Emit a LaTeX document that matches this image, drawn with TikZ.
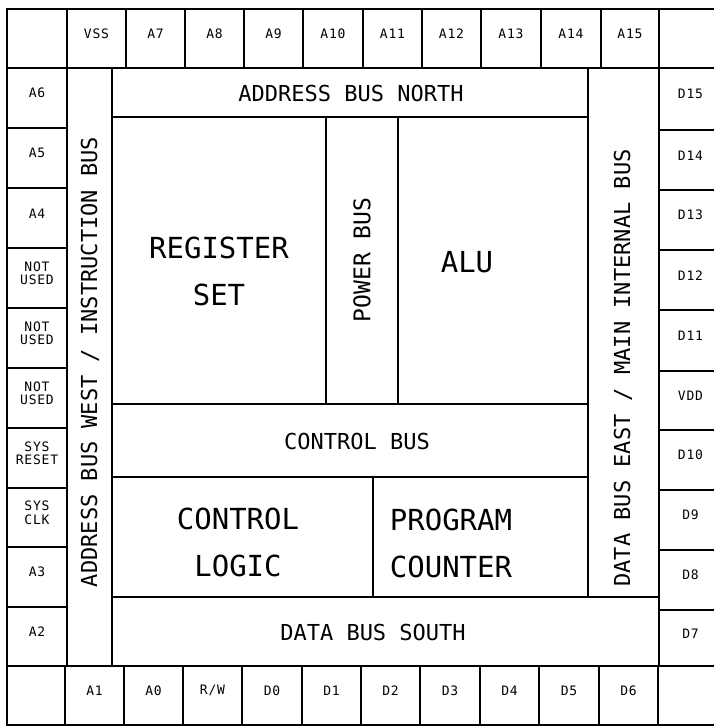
\documentclass[tikz,border=0pt]{standalone}
\usepackage{fontspec}
\usetikzlibrary{fit}
\newfontfamily\plotfont{DejaVu Sans Mono}
\newfontfamily\pinfont[LetterSpace=6]{DejaVu Sans Mono}
\newcommand\cellnode[6]{\node[pin, fit={(#2,#3) (#4,#5)}] (#1) {#6};}
\newcommand\blocknode[5]{\node[box, fit={(#2,#3) (#4,#5)}] (#1) {};}
\begin{document}
\begin{tikzpicture}[x=1pt,y=-1pt,
  box/.style={draw, line width=1.1pt, inner sep=0pt, outer sep=0pt},
  pin/.style={box, font=\pinfont\fontsize{13}{13.5}\selectfont, align=center},
  bus/.style={font=\plotfont\fontsize{22}{22}\selectfont, inner sep=0pt},
  blk/.style={font=\plotfont\fontsize{29}{47}\selectfont, align=center, inner sep=0pt}]
\useasboundingbox (0,0) rectangle (714,726);
% top row
\cellnode{tl}{7}{9}{67}{68}{}
\cellnode{vss}{67}{9}{126}{68}{VSS}
\cellnode{a7}{126}{9}{185}{68}{A7}
\cellnode{a8}{185}{9}{244}{68}{A8}
\cellnode{a9}{244}{9}{303}{68}{A9}
\cellnode{a10}{303}{9}{363}{68}{A10}
\cellnode{a11}{363}{9}{422}{68}{A11}
\cellnode{a12}{422}{9}{481}{68}{A12}
\cellnode{a13}{481}{9}{541}{68}{A13}
\cellnode{a14}{541}{9}{601}{68}{A14}
\cellnode{a15}{601}{9}{659}{68}{A15}
\cellnode{tr}{659}{9}{722}{68}{}
% left column
\cellnode{a6}{7}{68}{67}{128}{A6}
\cellnode{a5}{7}{128}{67}{188}{A5}
\cellnode{a4}{7}{188}{67}{248}{A4}
\cellnode{nu1}{7}{248}{67}{308}{NOT\\USED}
\cellnode{nu2}{7}{308}{67}{368}{NOT\\USED}
\cellnode{nu3}{7}{368}{67}{428}{NOT\\USED}
\cellnode{rst}{7}{428}{67}{488}{SYS\\RESET}
\cellnode{clk}{7}{488}{67}{547}{SYS\\CLK}
\cellnode{a3}{7}{547}{67}{607}{A3}
\cellnode{a2}{7}{607}{67}{666}{A2}
% bottom row
\cellnode{bl}{7}{666}{65}{725}{}
\cellnode{a1}{65}{666}{124}{725}{A1}
\cellnode{a0}{124}{666}{183}{725}{A0}
\cellnode{rw}{183}{666}{242}{725}{R/W}
\cellnode{d0}{242}{666}{302}{725}{D0}
\cellnode{d1}{302}{666}{361}{725}{D1}
\cellnode{d2}{361}{666}{420}{725}{D2}
\cellnode{d3}{420}{666}{480}{725}{D3}
\cellnode{d4}{480}{666}{539}{725}{D4}
\cellnode{d5}{539}{666}{599}{725}{D5}
\cellnode{d6}{599}{666}{658}{725}{D6}
\cellnode{br}{658}{666}{722}{725}{}
% right column
\cellnode{d15}{659}{68}{722}{130}{D15}
\cellnode{d14}{659}{130}{722}{190}{D14}
\cellnode{d13}{659}{190}{722}{250}{D13}
\cellnode{d12}{659}{250}{722}{310}{D12}
\cellnode{d11}{659}{310}{722}{371}{D11}
\cellnode{vdd}{659}{371}{722}{430}{VDD}
\cellnode{d10}{659}{430}{722}{490}{D10}
\cellnode{d9}{659}{490}{722}{550}{D9}
\cellnode{d8}{659}{550}{722}{610}{D8}
\cellnode{d7}{659}{610}{722}{666}{D7}
% inner blocks
\blocknode{busw}{67}{68}{112}{666}
\blocknode{busn}{112}{68}{588}{117}
\blocknode{buse}{588}{68}{659}{597}
\blocknode{regs}{112}{117}{326}{404}
\blocknode{pwr}{326}{117}{398}{404}
\blocknode{alu}{398}{117}{588}{404}
\blocknode{ctrlbus}{112}{404}{588}{477}
\blocknode{ctrllog}{112}{477}{373}{597}
\blocknode{pc}{373}{477}{588}{597}
\blocknode{buss}{112}{597}{659}{666}
% labels
\node[bus] (lbusn) at (351,93) {ADDRESS BUS NORTH};
\node[bus, rotate=90] (lbusw) at (90,362) {ADDRESS BUS WEST / INSTRUCTION BUS};
\node[bus, rotate=90] (lbuse) at (623,368) {DATA BUS EAST / MAIN INTERNAL BUS};
\node[bus, rotate=90, font=\plotfont\fontsize{23}{23}\selectfont] (lpwr) at (362,260) {POWER BUS};
\node[bus] (lctrlbus) at (357,441) {CONTROL BUS};
\node[bus] (lbuss) at (373,632) {DATA BUS SOUTH};
\node[blk] (lregs) at (219,271) {REGISTER\\SET};
\node[blk] (lalu) at (467,262) {ALU};
\node[blk] (lctrllog) at (238,542) {CONTROL\\LOGIC};
\node[blk] (lpc) at (451,543) {PROGRAM\\COUNTER};
\end{tikzpicture}
\end{document}
